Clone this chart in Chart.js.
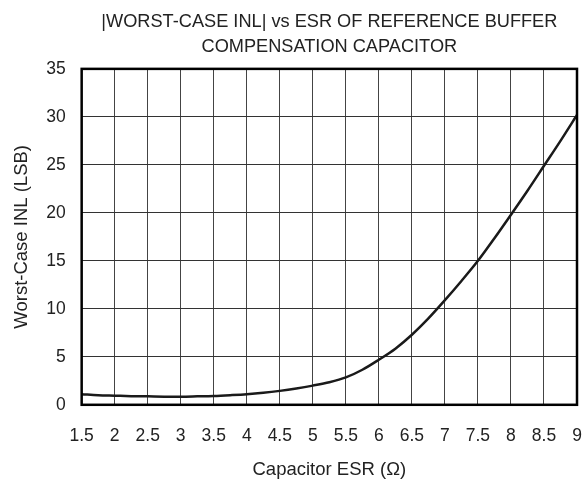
<!DOCTYPE html>
<html>
<head>
<meta charset="utf-8">
<script src="https://cdn.jsdelivr.net/npm/chart.js@4/dist/chart.umd.min.js"></script>
<style>
  html, body { margin: 0; padding: 0; background: #fff; }
  #wrap { width: 586px; height: 481px; }
</style>
</head>
<body>
<div id="wrap"><canvas id="inl"></canvas></div>
<script>
const esr = [1.5, 1.75, 2, 2.25, 2.5, 2.75, 3, 3.25, 3.5, 3.75, 4, 4.25, 4.5, 4.75, 5, 5.25, 5.5, 5.75, 6, 6.25, 6.5, 6.75, 7, 7.25, 7.5, 7.75, 8, 8.25, 8.5, 8.75, 9];
const inl = [1.1, 1.0, 0.95, 0.9, 0.88, 0.85, 0.85, 0.88, 0.92, 1.0, 1.1, 1.25, 1.45, 1.7, 2.0, 2.35, 2.85, 3.65, 4.7, 5.85, 7.3, 9.0, 10.9, 12.9, 15.0, 17.35, 19.8, 22.3, 24.9, 27.5, 30.2];
const xTicks = [1.5, 2, 2.5, 3, 3.5, 4, 4.5, 5, 5.5, 6, 6.5, 7, 7.5, 8, 8.5, 9];
const yTicks = [0, 5, 10, 15, 20, 25, 30, 35];

const font = 'Liberation Sans, Arial, sans-serif';

// heavy frame round the plot area
const frame = {
  id: 'frame',
  afterDatasetsDraw(chart) {
    const a = chart.chartArea;
    const c = chart.ctx;
    c.save();
    c.strokeStyle = '#000';
    c.lineWidth = 2.5;
    c.strokeRect(a.left, a.top, a.right - a.left, a.bottom - a.top);
    c.restore();
  }
};

const ctx = document.getElementById('inl').getContext('2d');
new Chart(ctx, {
  type: 'line',
  data: {
    datasets: [{
      data: esr.map((x, i) => ({ x: x, y: inl[i] })),
      borderColor: '#1a1a1a',
      borderWidth: 2.5,
      pointRadius: 0,
      cubicInterpolationMode: 'monotone',
      fill: false
    }]
  },
  options: {
    responsive: true,
    maintainAspectRatio: false,
    animation: false,
    layout: { padding: { left: 11, right: 9, top: 10, bottom: 0 } },
    plugins: {
      legend: { display: false },
      tooltip: { enabled: false },
      title: {
        display: true,
        fullSize: false,
        text: ['|WORST-CASE INL| vs ESR OF REFERENCE BUFFER', 'COMPENSATION CAPACITOR'],
        color: '#222',
        font: { family: font, size: 18.2, weight: 'normal', lineHeight: 1.37 },
        padding: { top: 0, bottom: 9 }
      }
    },
    scales: {
      x: {
        type: 'linear',
        min: 1.5,
        max: 9,
        afterBuildTicks: s => { s.ticks = xTicks.map(v => ({ value: v })); },
        ticks: { color: '#222', font: { family: font, size: 17.5 }, padding: 2, maxRotation: 0, autoSkip: false,
                 callback: v => String(v) },
        grid: { color: '#444', lineWidth: 1, drawTicks: true, tickLength: 19, tickColor: 'rgba(0,0,0,0)' },
        border: { display: false },
        title: { display: true, text: 'Capacitor ESR (Ω)', color: '#222', font: { family: font, size: 18.5 }, padding: { top: 10, bottom: 0 } }
      },
      y: {
        min: 0,
        max: 35,
        afterBuildTicks: s => { s.ticks = yTicks.map(v => ({ value: v })); },
        ticks: { color: '#222', font: { family: font, size: 17.5 }, padding: 2 },
        grid: { color: '#333', lineWidth: 1, drawTicks: true, tickLength: 14, tickColor: 'rgba(0,0,0,0)' },
        border: { display: false },
        title: { display: true, text: 'Worst-Case INL (LSB)', color: '#222', font: { family: font, size: 18.5 }, padding: { top: 0, bottom: 11 } }
      }
    }
  },
  plugins: [frame]
});
</script>
</body>
</html>
